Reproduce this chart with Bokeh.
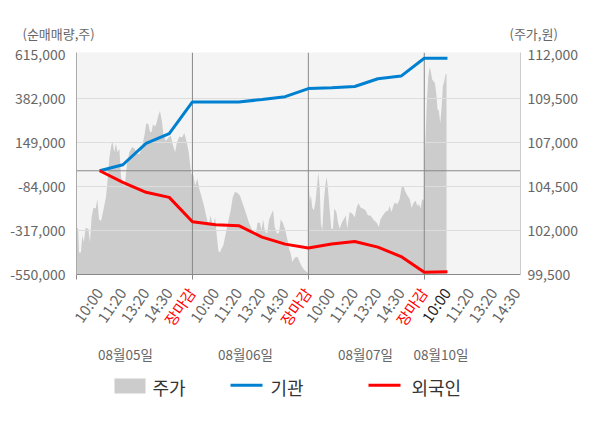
from bokeh.plotting import figure
from bokeh.layouts import column
from bokeh.models import (Range1d, LinearAxis, FixedTicker, NumeralTickFormatter,
                          Span, ColumnDataSource)
from bokeh.core.properties import value
from bokeh.embed import file_html
from bokeh.resources import INLINE

# ---------------- data ----------------
slot_labels = ["10:00", "11:20", "13:20", "14:30", "장마감",
               "10:00", "11:20", "13:20", "14:30", "장마감",
               "10:00", "11:20", "13:20", "14:30", "장마감",
               "10:00", "11:20", "13:20", "14:30"]
date_labels = ["08월05일", "08월06일", "08월07일", "08월10일"]
legend_labels = ["주가", "기관", "외국인"]

# cumulative net buying (shares) sampled at the slot ticks (slots 1..16)
inst_net = [0, 32000, 145000, 197000, 365000, 365000, 365000, 378000, 393000, 436000,
            440000, 447000, 488000, 502000, 597000, 597000]
foreign_net = [0, -61000, -114000, -141000, -270000, -286000, -291000, -352000, -389000, -409000,
               -388000, -375000, -405000, -455000, -538000, -535000]

# intraday stock price (won); x in slot units (5 slots per trading day)
price_x = [0.00, 0.07, 0.11, 0.19, 0.25, 0.32, 0.39, 0.51, 0.58, 0.65, 0.73, 0.83, 0.90, 0.97, 1.06,
           1.16, 1.27, 1.34, 1.42, 1.50, 1.55, 1.63, 1.70, 1.77, 1.85, 1.92, 1.99, 2.08, 2.18, 2.28,
           2.40, 2.51, 2.62, 2.72, 2.84, 2.94, 3.01, 3.10, 3.17, 3.24, 3.30, 3.39, 3.46, 3.53, 3.60,
           3.68, 3.75, 3.85, 3.97, 4.07, 4.14, 4.25, 4.33, 4.43, 4.55, 4.65, 4.76, 4.84, 4.94, 4.99,
           5.04, 5.12, 5.21, 5.30, 5.40, 5.50, 5.59, 5.69, 5.79, 5.88, 5.98, 6.05, 6.12, 6.19, 6.26,
           6.33, 6.45, 6.55, 6.65, 6.74, 6.83, 6.93, 7.05, 7.15, 7.23, 7.34, 7.44, 7.52, 7.62, 7.72,
           7.81, 7.91, 7.98, 8.05, 8.12, 8.22, 8.31, 8.41, 8.48, 8.55, 8.65, 8.74, 8.81, 8.91, 9.01,
           9.10, 9.17, 9.24, 9.31, 9.38, 9.46, 9.53, 9.60, 9.70, 9.80, 9.92, 9.99,
           10.01, 10.06, 10.11, 10.17, 10.24, 10.31, 10.39, 10.43, 10.49, 10.54, 10.60, 10.67, 10.74,
           10.79, 10.84, 10.92, 10.99, 11.06, 11.12, 11.21, 11.28, 11.35, 11.44, 11.53, 11.61, 11.68,
           11.78, 11.90, 12.00, 12.08, 12.16, 12.26, 12.35, 12.47, 12.57, 12.69, 12.79, 12.87, 12.97,
           13.04, 13.11, 13.21, 13.32, 13.45, 13.50, 13.59, 13.66, 13.73, 13.84, 13.94, 14.02, 14.10,
           14.17, 14.27, 14.37, 14.45, 14.55, 14.63, 14.70, 14.77, 14.84, 14.91, 14.98,
           15.00, 15.06, 15.11, 15.17, 15.23, 15.28, 15.34, 15.40, 15.46, 15.52, 15.57, 15.63, 15.69,
           15.75, 15.80, 15.86, 15.92, 15.96]
price = [102200, 102100, 100750, 100750, 101700, 101350, 102150, 102100, 101350, 102750, 103300,
         103250, 103800, 102650, 102550, 103150, 103900, 104850, 106150, 106850, 107100, 106450,
         106950, 106450, 106650, 105050, 104650, 104550, 105800, 106450, 106750, 106650, 106350,
         106350, 106850, 107500, 108100, 108050, 107600, 107600, 108050, 107900, 108150, 108550,
         108800, 108250, 107500, 107100, 107300, 107400, 106950, 106450, 107000, 107350, 107300,
         107550, 107000, 106450, 105300, 105150,
         105150, 104550, 104950, 104350, 103900, 103400, 102850, 102300, 102850, 102200, 102750,
         101700, 100850, 100750, 101000, 101150, 101900, 102550, 103150, 103900, 104200, 104150,
         104000, 103600, 103300, 102850, 102450, 102200, 101900, 101700, 102450, 102450, 102000,
         102650, 102000, 101800, 102650, 102950, 103150, 102200, 101800, 101900, 102650, 102400,
         102000, 101450, 100950, 100700, 100200, 100400, 100500, 100500, 100300, 100000, 99800,
         99650, 99550,
         104750, 103700, 104000, 103300, 103150, 103700, 104750, 105300, 104450, 102450, 102000,
         103700, 104650, 105050, 104450, 103150, 102100, 102100, 103250, 103050, 102450, 102100,
         102450, 102650, 102850, 102100, 103050, 102950, 102750, 103300, 103550, 103300, 103250,
         103150, 102850, 102850, 102650, 102550, 102400, 102200, 102650, 102850, 103050, 103150,
         103400, 103050, 103400, 103600, 103500, 103800, 104450, 104550, 104250, 104000, 103800,
         103300, 103600, 103700, 103400, 103500, 103250, 103800, 103700,
         105750, 107450, 109250, 110700, 111300, 111050, 110600, 110500, 110400, 109750, 108900,
         108800, 108100, 109050, 110200, 110500, 110900, 110900]

left_ticks = [-550000, -317000, -84000, 149000, 382000, 615000]
right_ticks = [99500, 102000, 104500, 107000, 109500, 112000]
day_bounds = [0, 5, 10, 15]

# ---------------- layout constants (page pixels) ----------------
FONT = "Noto Sans CJK KR"
W = 600
FL, FR = 76, 520          # frame left / right
TOP_H = 44                # title strip height
MAIN_H = 239              # main chart height (frame 52..274)
BOT_H = 428 - TOP_H - MAIN_H
XMAX = 19.15
unit = (FR - FL) / XMAX

# ---------------- title strip ----------------
pt = figure(width=W, height=TOP_H, output_backend="svg", toolbar_location=None,
            x_range=Range1d(0, W), y_range=Range1d(0, TOP_H), x_axis_type=None, y_axis_type=None,
            min_border=0, outline_line_color=None, background_fill_color="white",
            frame_align=False)
pt.grid.visible = False
pt.text(x=[22, 509], y=[11, 11], text=["(순매매량,주)", "(주가,원)"], text_align="left",
        text_baseline="middle", text_font_size="13px", text_font=value(FONT), text_color="#666666")

# ---------------- main chart ----------------
p = figure(width=W, height=MAIN_H, output_backend="svg", toolbar_location=None,
           x_range=Range1d(0, XMAX), y_range=Range1d(-550000, 627200),
           min_border_left=FL, min_border_right=W - FR, min_border_top=8, min_border_bottom=9,
           background_fill_color="#f4f4f4", border_fill_color="white", outline_line_color=None,
           frame_align=False)
p.extra_y_ranges = {"price": Range1d(99500, 112130)}

p.xgrid.visible = False
p.ygrid.ticker = FixedTicker(ticks=left_ticks[1:-1])
p.ygrid.grid_line_color = "#dddddd"

ya = p.yaxis[0]
ya.ticker = FixedTicker(ticks=left_ticks)
ya.formatter = NumeralTickFormatter(format="0,0")
ya.major_tick_out = 0
ya.major_tick_in = 0
ya.minor_tick_out = 0
ya.minor_tick_in = 0
ya.axis_line_color = "#aaaaaa"
ya.major_label_text_color = "#666666"
ya.major_label_text_font_size = "14px"
ya.major_label_text_font = FONT
ya.major_label_standoff = 11

ra = LinearAxis(y_range_name="price", ticker=FixedTicker(ticks=right_ticks),
                formatter=NumeralTickFormatter(format="0,0"))
ra.major_tick_out = 0
ra.major_tick_in = 0
ra.minor_tick_out = 0
ra.minor_tick_in = 0
ra.axis_line_color = "#cccccc"
ra.major_label_text_color = "#666666"
ra.major_label_text_font_size = "14px"
ra.major_label_text_font = FONT
ra.major_label_standoff = 7
p.add_layout(ra, "right")

# bottom axis: only small marks at the day boundaries (minor ticks, no labels)
xa = p.xaxis[0]
xa.ticker = FixedTicker(ticks=[], minor_ticks=day_bounds)
xa.major_tick_out = 0
xa.major_tick_in = 0
xa.minor_tick_out = 5
xa.minor_tick_in = 0
xa.axis_line_color = "#888888"
xa.minor_tick_line_color = "#888888"

p.varea(x=price_x, y1=99500, y2=price, y_range_name="price", fill_color="#cccccc", level="image")

p.add_layout(Span(location=0, dimension="width", line_color="#888888", line_width=1, level="underlay"))
for b in day_bounds[1:]:
    p.add_layout(Span(location=b, dimension="height", line_color="#888888", line_width=1,
                      level="underlay"))

slots = list(range(1, len(inst_net) + 1))
p.line(slots, inst_net, line_color="#0080d0", line_width=3)
p.line(slots, foreign_net, line_color="#ff0000", line_width=3)

# ---------------- bottom strip: tick labels, dates, legend ----------------
pb = figure(width=W, height=BOT_H, output_backend="svg", toolbar_location=None,
            x_range=Range1d(-FL / unit, (W - FL) / unit), y_range=Range1d(0, BOT_H),
            x_axis_type=None, y_axis_type=None, min_border=0, outline_line_color=None,
            background_fill_color="white", frame_align=False)
pb.grid.visible = False
pb.extra_x_ranges = {"px": Range1d(0, W)}

tick_colors = []
for i, t in enumerate(slot_labels):
    if t == "장마감":
        tick_colors.append("#ff0000")
    elif i == 15:
        tick_colors.append("#222222")
    else:
        tick_colors.append("#666666")
tick_src = ColumnDataSource(dict(x=list(range(1, len(slot_labels) + 1)), text=slot_labels,
                                 color=tick_colors))
pb.text(x="x", y=BOT_H - 6, text="text", source=tick_src, angle=55, angle_units="deg",
        text_align="right", text_baseline="middle", text_font_size="15px",
        text_font=value(FONT), text_color="color", x_offset=-1)

pb.text(x=[125, 245, 365, 440.5], y=75, text=date_labels, x_range_name="px",
        text_align="center", text_baseline="middle", text_font_size="13.5px",
        text_font=value(FONT), text_color="#666666")

# legend
pb.quad(left=114, right=145, bottom=35, top=50, x_range_name="px",
        fill_color="#cccccc", line_color=None)
pb.segment(x0=[230, 368], x1=[262, 400], y0=43.3, y1=43.3, x_range_name="px",
           line_color=["#0080d0", "#ff0000"], line_width=3)
pb.text(x=[152, 270, 411], y=42, text=legend_labels, x_range_name="px",
        text_align="left", text_baseline="middle", text_font_size="18px",
        text_font=value(FONT), text_color="#333333")

layout = column(pt, p, pb, spacing=0)
open("out.html", "w").write(file_html(layout, INLINE))
